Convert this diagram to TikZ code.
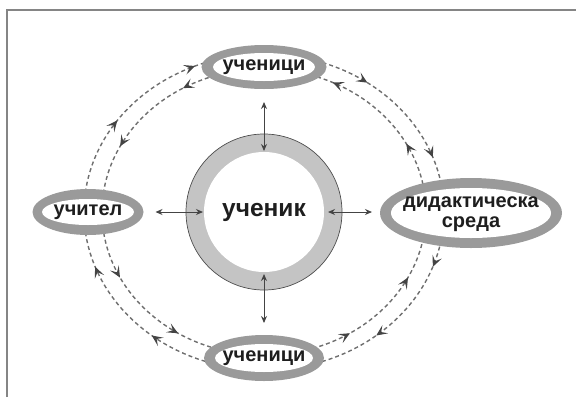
\documentclass[tikz,border=0pt]{standalone}
\usepackage{fontspec}
\setmainfont{Liberation Sans}[Script=Cyrillic,Language=Bulgarian]
\usetikzlibrary{arrows.meta,shapes.geometric,decorations.markings,backgrounds}
\definecolor{ringgray}{HTML}{9A9A9A}
\definecolor{ringlight}{HTML}{C4C4C4}
\definecolor{edgegray}{HTML}{4D4D4D}
\definecolor{dashgray}{HTML}{6E6E6E}
\definecolor{tipgray}{HTML}{444444}
\definecolor{txtgray}{HTML}{1E1E1E}
\definecolor{framegray}{HTML}{858585}
\tikzset{
  midtip/.tip={Stealth[length=11pt,width=10pt,inset=5pt,color=tipgray]},
  ringell/.style n args={4}{ellipse, fill=ringgray, minimum width=#1, minimum height=#2,
    inner sep=0pt, outer sep=0pt, text=txtgray, font=\bfseries\fontsize{20}{20}\selectfont,
    path picture={\fill[white] (path picture bounding box.center) ellipse [x radius=#3, y radius=#4];}},
  hub/.style={circle, fill=ringlight, draw=edgegray, line width=0.7pt, minimum size=156pt,
    inner sep=0pt, outer sep=0pt, text=txtgray, font=\bfseries\fontsize{24.5}{28}\selectfont,
    path picture={\fill[white] (path picture bounding box.center) circle (60pt);}},
  link/.style={{Stealth[length=7pt,width=6pt]}-{Stealth[length=7pt,width=6pt]}, draw=tipgray, line width=1pt},
  cyc/.style 2 args={draw=dashgray, line width=1.4pt, dash pattern=on 4pt off 3pt,
    postaction={decorate}, decoration={markings,
      mark=at position #1 with {\arrow{midtip}},
      mark=at position #2 with {\arrow{midtip}}}},
  frame/.style={draw=framegray, line width=1.6pt}
}
\begin{document}
\begin{tikzpicture}[x=1pt,y=1pt]
\useasboundingbox (0,0) rectangle (576,-397);
\draw[frame] (7,-397) -- (7,-10) -- (576,-10);

\node[hub] (C) at (264,-212) {\makebox[0pt]{ученик}};
\node[ringell={125pt}{44pt}{51pt}{14pt}] (T) at (264,-67) {\makebox[0pt]{ученици}};
\node[ringell={111pt}{46pt}{46pt}{13pt}] (L) at (88,-212) {\makebox[0pt]{учител}};
\node[ringell={182pt}{70pt}{80pt}{25pt}] (R) at (471,-213)
  {\makebox[0pt]{\def\arraystretch{1}\begin{tabular}{@{}c@{}}дидактическа\\среда\end{tabular}}};
\node[ringell={120pt}{46pt}{49pt}{14pt}] (B) at (264,-358) {\makebox[0pt]{ученици}};

\draw[link] ([yshift=-13pt]T.south) -- ([yshift=-17pt]C.north);
\draw[link] ([xshift=12pt]L.east) -- ([xshift=17pt]C.west);
\draw[link] ([xshift=-14pt]C.east) -- ([xshift=-8pt]R.west |- C.east);
\draw[link] ([yshift=16pt]C.south) -- ([yshift=12pt]B.north);

\begin{pgfonlayer}{background}
% top-left
\draw[cyc={0.41}{0.83}] (C.center) ++(178:180pt and 158pt) arc[start angle=178, end angle=100, x radius=180pt, y radius=158pt];
\draw[cyc={0.27}{0.69}] (C.center) ++(100:162pt and 143pt) arc[start angle=100, end angle=178, x radius=162pt, y radius=143pt];
% top-right
\draw[cyc={0.33}{0.76}] (C.center) ++(80:180pt and 158pt) arc[start angle=80, end angle=0, x radius=180pt, y radius=158pt];
\draw[cyc={0.34}{0.80}] (C.center) ++(0:162pt and 143pt) arc[start angle=0, end angle=80, x radius=162pt, y radius=143pt];
% bottom-left
\draw[cyc={0.375}{0.76}] (C.center) ++(260:180pt and 158pt) arc[start angle=260, end angle=180, x radius=180pt, y radius=158pt];
\draw[cyc={0.325}{0.71}] (C.center) ++(180:162pt and 143pt) arc[start angle=180, end angle=260, x radius=162pt, y radius=143pt];
% bottom-right
\draw[cyc={0.24}{0.625}] (C.center) ++(360:180pt and 158pt) arc[start angle=360, end angle=280, x radius=180pt, y radius=158pt];
\draw[cyc={0.29}{0.675}] (C.center) ++(280:162pt and 143pt) arc[start angle=280, end angle=360, x radius=162pt, y radius=143pt];
\end{pgfonlayer}
\end{tikzpicture}
\end{document}
